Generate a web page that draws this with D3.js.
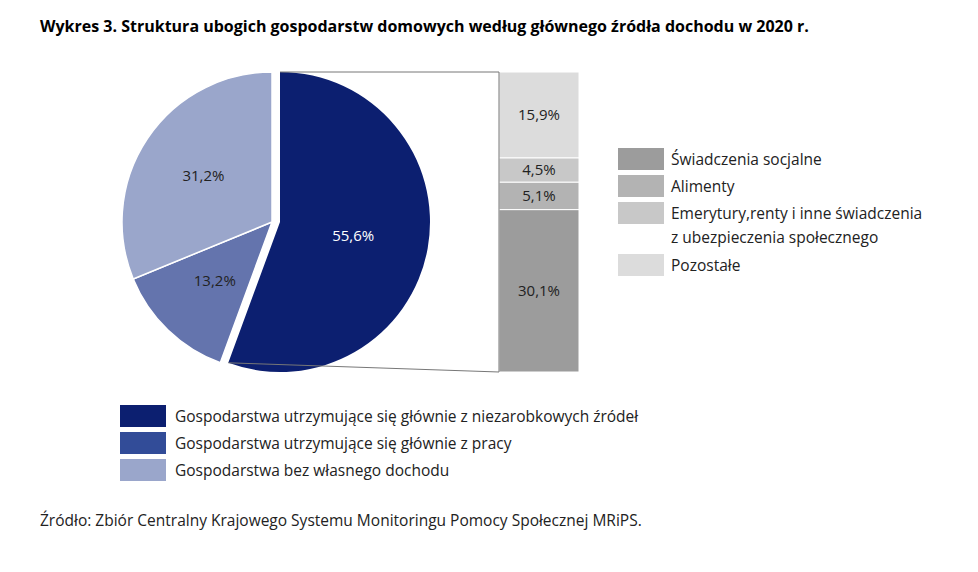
<!DOCTYPE html><html><head><meta charset="utf-8"><script src="https://cdn.jsdelivr.net/npm/d3@7"></script>
<style>body{margin:0;background:#fff}text{font-family:"Open Sans","Noto Sans",sans-serif}</style></head><body>
<svg id="c" width="978" height="572"></svg>
<script>
const pieLabels=["Gospodarstwa utrzymujące się głównie z niezarobkowych źródeł","Gospodarstwa utrzymujące się głównie z pracy","Gospodarstwa bez własnego dochodu"];
const pieValues=[55.6,13.2,31.2];
const pieColors=["#0c1f70","#6474ad","#9aa6cb"];
const legendPieColors=["#0c1f70","#324c98","#9aa6cb"];
const barLabels=["Świadczenia socjalne","Alimenty","Emerytury,renty i inne świadczenia\nz ubezpieczenia społecznego","Pozostałe"];
const barValues=[30.1,5.1,4.5,15.9];
const barColors=["#9c9c9c","#b3b3b3","#c8c8c8","#dcdcdc"];
(function(){
const fmt=v=>v.toFixed(1).replace(".",",")+"%";
const svg=d3.select("#c");
svg.append("text").attr("x",40).attr("y",32).attr("font-size",16).attr("font-weight",700).text("Wykres 3. Struktura ubogich gospodarstw domowych według głównego źródła dochodu w 2020 r.");
const R=150,cx=272,cy=222;
const arcs=d3.pie().sort(null)(pieValues);
const arc=d3.arc().innerRadius(0).outerRadius(R);
const g=svg.append("g");
arcs.forEach((a,i)=>{
  const off=i==0?[8,0]:[0,0];
  const gg=g.append("g").attr("transform",`translate(${cx+off[0]},${cy+off[1]})`);
  gg.append("path").attr("d",arc(a)).attr("fill",pieColors[i]).attr("stroke","#fff").attr("stroke-width",i==0?0:1.5);
  const c=d3.arc().innerRadius(R*0.55).outerRadius(R*0.55).centroid(a);
  gg.append("text").attr("x",c[0]+(i==0?-8:0)).attr("y",c[1]+5).attr("text-anchor","middle").attr("font-size",15).attr("fill",i==0?"#fff":"#222").text(fmt(pieValues[i]));
});
const bx=499,bw=80,yTop=72,yBot=372;
const y=d3.scaleLinear().domain([0,d3.sum(barValues)]).range([yBot,yTop]);
let acc=0;
barValues.forEach((v,i)=>{
  svg.append("rect").attr("x",bx).attr("width",bw).attr("y",y(acc+v)).attr("height",y(acc)-y(acc+v)).attr("fill",barColors[i]).attr("stroke","#fff").attr("stroke-width",1);
  svg.append("text").attr("x",bx+bw/2).attr("y",(y(acc)+y(acc+v))/2+5).attr("text-anchor","middle").attr("font-size",15).attr("fill","#222").text(fmt(v));
  acc+=v;
});
const endA=arcs[0].endAngle;
const px=cx+8+R*Math.sin(endA),py=cy-R*Math.cos(endA);
svg.append("line").attr("x1",cx+8).attr("y1",yTop).attr("x2",bx).attr("y2",yTop).attr("stroke","#777");
svg.append("line").attr("x1",px).attr("y1",py).attr("x2",bx).attr("y2",yBot).attr("stroke","#777");
svg.append("line").attr("x1",bx).attr("y1",yTop).attr("x2",bx).attr("y2",yBot).attr("stroke","#777");
const ly=[148,175,202,254];
barLabels.forEach((l,i)=>{
  svg.append("rect").attr("x",618).attr("y",ly[i]).attr("width",46).attr("height",22).attr("fill",barColors[i]);
  l.split("\n").forEach((s,k)=>svg.append("text").attr("x",671).attr("y",ly[i]+17+k*24).attr("font-size",15.5).attr("fill","#222").text(s));
});
pieLabels.forEach((l,i)=>{
  const yy=405+i*27;
  svg.append("rect").attr("x",120).attr("y",yy).attr("width",46).attr("height",22).attr("fill",legendPieColors[i]);
  svg.append("text").attr("x",175).attr("y",yy+17).attr("font-size",15.5).attr("fill","#222").text(l);
});
svg.append("text").attr("x",40).attr("y",526).attr("font-size",15.5).attr("fill","#222").text("Źródło: Zbiór Centralny Krajowego Systemu Monitoringu Pomocy Społecznej MRiPS.");
})();
</script></body></html>
